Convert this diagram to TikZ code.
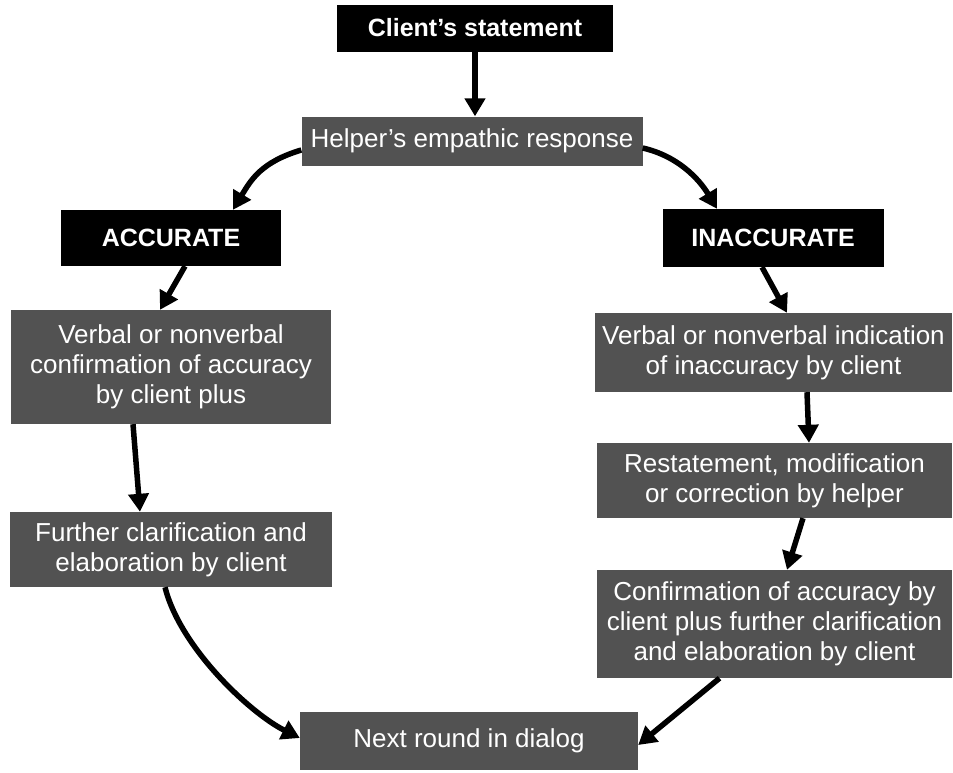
\documentclass[tikz,border=0pt]{standalone}
\usepackage{fontspec}
\setmainfont{Liberation Sans}
\usetikzlibrary{arrows.meta}
\begin{document}
\begin{tikzpicture}[x=1pt,y=-1pt,
  blackbox/.style={fill=black, text=white, font=\bfseries\fontsize{25}{28}\selectfont, inner sep=0pt},
  graybox/.style={fill=black!68, text=white, font=\fontsize{26}{30}\selectfont, align=center, inner sep=0pt},
  flow/.style={line width=5.5pt, -{Triangle[length=18pt,width=20pt]}}
]
\useasboundingbox (0,0) rectangle (953,772);
% black boxes
\node[blackbox, minimum width=276pt, minimum height=47pt] (client) at (475,28) {Client's statement};
\node[blackbox, minimum width=220pt, minimum height=56pt] (accurate) at (171,238) {ACCURATE};
\node[blackbox, minimum width=221pt, minimum height=58pt] (inaccurate) at (773,238) {INACCURATE};
% gray boxes
\node[graybox, minimum width=341pt, minimum height=49pt] (helper) at (472,141) {Helper's empathic response};
\node[graybox, minimum width=320pt, minimum height=114pt] (vconf) at (171,367) {Verbal or nonverbal\\confirmation of accuracy\\by client plus};
\node[graybox, minimum width=322pt, minimum height=75pt] (further) at (171,549.5) {Further clarification and\\elaboration by client};
\node[graybox, minimum width=357pt, minimum height=79pt] (vind) at (773.5,352.5) {Verbal or nonverbal indication\\of inaccuracy by client};
\node[graybox, minimum width=355pt, minimum height=75pt] (restate) at (774.5,480.5) {Restatement, modification\\or correction by helper};
\node[graybox, minimum width=355pt, minimum height=108pt] (confirm) at (774.5,624) {Confirmation of accuracy by\\client plus further clarification\\and elaboration by client};
\node[graybox, minimum width=338pt, minimum height=58pt] (next) at (469,741) {Next round in dialog};
% connectors
\draw[flow] (client.south) -- (client.south |- helper.north);
\draw[flow] ([yshift=-9pt]helper.west) .. controls +(-40,12) and +(18,-30) .. ([xshift=62pt]accurate.north);
\draw[flow] ([yshift=-7pt]helper.east) .. controls +(35,8) and +(-18,-30) .. ([xshift=-56pt]inaccurate.north);
\draw[flow] ([xshift=14pt]accurate.south) -- ([xshift=-11pt]vconf.north);
\draw[flow] ([xshift=-11pt]inaccurate.south) -- ([xshift=13.5pt]vind.north);
\draw[flow] ([xshift=-38pt]vconf.south) -- ([xshift=-31pt]further.north);
\draw[flow] ([xshift=33.5pt]vind.south) -- ([xshift=34.5pt]restate.north);
\draw[flow] ([xshift=28.5pt]restate.south) -- ([xshift=12.5pt]confirm.north);
\draw[flow] ([xshift=-6pt]further.south) .. controls +(15,60) and +(-50,-25) .. ([yshift=3pt]next.west);
\draw[flow] ([xshift=-55pt]confirm.south) -- ([yshift=-4pt]next.east);
\end{tikzpicture}
\end{document}
